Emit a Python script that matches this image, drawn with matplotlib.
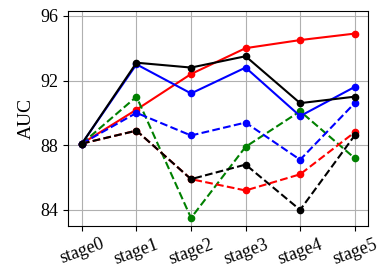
import matplotlib
matplotlib.use("Agg")
import matplotlib.pyplot as plt

stages = ["stage0", "stage1", "stage2", "stage3", "stage4", "stage5"]

red_solid = [88.1, 90.2, 92.4, 94.0, 94.5, 94.9]
green_dashed = [88.1, 91.0, 83.5, 87.9, 90.1, 87.2]
blue_dashed = [88.1, 90.0, 88.6, 89.4, 87.1, 90.6]
red_dashed = [88.1, 88.9, 85.9, 85.2, 86.2, 88.8]
black_dashed = [88.1, 88.9, 85.9, 86.8, 84.0, 88.6]
blue_solid = [88.1, 93.0, 91.2, 92.8, 89.8, 91.6]
black_solid = [88.1, 93.1, 92.8, 93.5, 90.6, 91.0]

series = [
    (red_solid, "red", "-"),
    (green_dashed, "green", "--"),
    (blue_dashed, "blue", "--"),
    (red_dashed, "red", "--"),
    (black_dashed, "black", "--"),
    (blue_solid, "blue", "-"),
    (black_solid, "black", "-"),
]

plt.rcParams["font.family"] = ["Liberation Serif", "DejaVu Serif"]

fig = plt.figure(figsize=(3.89, 2.74), dpi=100)
ax = fig.add_axes([0.1756, 0.175, 0.7712, 0.785])

x = range(len(stages))
for values, color, style in series:
    ax.plot(x, values, color=color, linestyle=style, marker="o",
            markersize=4.5, linewidth=1.5)

ax.set_xticks(list(x))
ax.set_xticklabels(stages, rotation=20, fontsize=13)
ax.set_yticks([84, 88, 92, 96])
ax.tick_params(axis="y", labelsize=13)
ax.set_ylim(83.0, 96.3)
ax.set_ylabel("AUC", fontsize=14)
ax.grid(True, color="#b0b0b0", linewidth=0.8)

fig.savefig("out.png", dpi=100)
